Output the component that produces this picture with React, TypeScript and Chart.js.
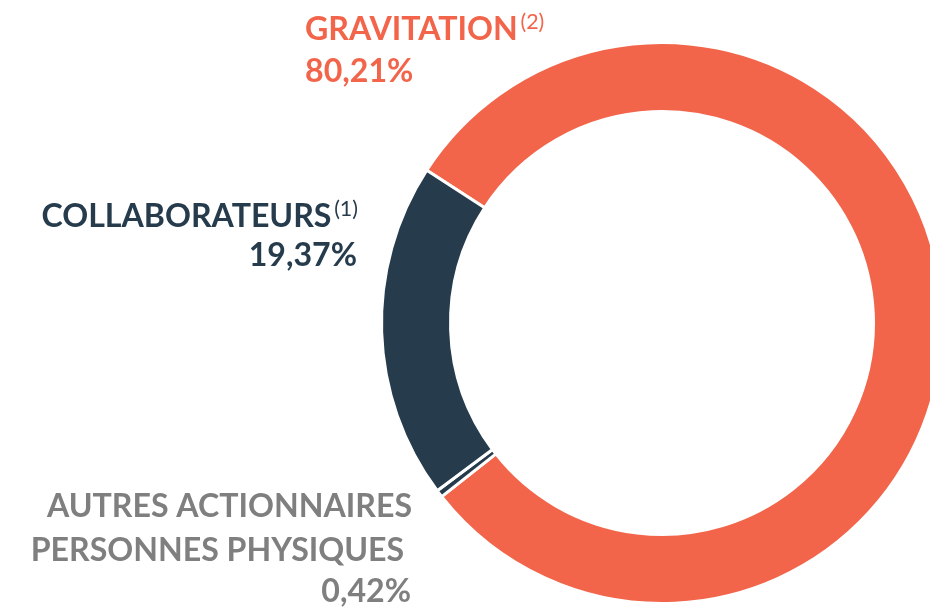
import React, { useEffect, useRef } from "react";
import { Chart, registerables } from "chart.js";

Chart.register(...registerables);

// ---- Data ----
const categoryLines: string[][] = [
  ["GRAVITATION"],
  ["AUTRES ACTIONNAIRES", "PERSONNES PHYSIQUES "],
  ["COLLABORATEURS"],
];
const shares = [80.21, 0.42, 19.37];
const notes = ["(2)", "", "(1)"];
const sliceColors = ["#F2654A", "#263C4D", "#263C4D"];
const textColors = ["#F2654A", "#7F7F7F", "#263C4D"];

// label placement (layout only)
const labelAnchors = [
  { x: 305, align: "left", baselines: [40, 82] },
  { x: 412, align: "right", baselines: [517, 561, 602] },
  { x: 358, align: "right", baselines: [227, 266] },
];

const FONT_FAMILY = "Lato, 'Noto Sans', sans-serif";
const MAIN_SIZE = 33;
const SUP_SIZE = 22;

const fmt = (v: number) => v.toFixed(2).replace(".", ",") + "%";

const labelPlugin = {
  id: "sideLabels",
  afterDraw(chart: any) {
    const ctx: CanvasRenderingContext2D = chart.ctx;
    ctx.save();
    ctx.textBaseline = "alphabetic";
    ctx.textAlign = "left";
    ctx.font = `700 ${MAIN_SIZE}px ${FONT_FAMILY}`;
    const ref = ctx.measureText("COLLABORATEURS").width;
    const sx = 290 / ref;

    const drawRun = (
      segs: { text: string; font: string; dy: number }[],
      x: number,
      baseline: number,
      align: string,
      color: string
    ) => {
      const widths = segs.map((s) => {
        ctx.font = s.font;
        return ctx.measureText(s.text).width * sx;
      });
      const total = widths.reduce((a, b) => a + b, 0);
      let cx = align === "right" ? x - total : x;
      segs.forEach((s, i) => {
        ctx.font = s.font;
        ctx.fillStyle = color;
        ctx.save();
        ctx.translate(cx, baseline + s.dy);
        ctx.scale(sx, 1);
        ctx.fillText(s.text, 0, 0);
        ctx.restore();
        cx += widths[i];
      });
    };

    const mainFont = `700 ${MAIN_SIZE}px ${FONT_FAMILY}`;
    const supFont = `400 ${SUP_SIZE}px ${FONT_FAMILY}`;

    categoryLines.forEach((lines, i) => {
      const a = labelAnchors[i];
      const color = textColors[i];
      lines.forEach((line, j) => {
        const segs = [{ text: line, font: mainFont, dy: 0 }];
        if (j === 0 && notes[i]) {
          segs.push({ text: "\u2009" + notes[i], font: supFont, dy: -11 });
        }
        drawRun(segs, a.x, a.baselines[j], a.align, color);
      });
      drawRun(
        [{ text: fmt(shares[i]), font: mainFont, dy: 0 }],
        a.align === "right" ? a.x - 1 : a.x,
        a.baselines[lines.length],
        a.align,
        color
      );
    });
    ctx.restore();
  },
};

export default function App() {
  const canvasRef = useRef<HTMLCanvasElement | null>(null);

  useEffect(() => {
    if (!canvasRef.current) return;
    const chart = new Chart(canvasRef.current, {
      type: "doughnut",
      data: {
        labels: categoryLines.map((l) => l.join(" ").trim()),
        datasets: [
          {
            data: shares,
            backgroundColor: sliceColors,
            borderColor: "#FFFFFF",
            borderWidth: 3,
            hoverOffset: 0,
          },
        ],
      },
      options: {
        responsive: false,
        animation: false,
        events: [],
        cutout: "75.4%",
        rotation: -57,
        layout: { padding: { top: 41, bottom: 2, left: 0, right: 0 } },
        plugins: {
          legend: { display: false },
          tooltip: { enabled: false },
        },
      },
      plugins: [labelPlugin],
    });
    return () => chart.destroy();
  }, []);

  return (
    <div
      style={{
        position: "absolute",
        left: 0,
        top: 0,
        width: 930,
        height: 607,
        overflow: "hidden",
        background: "#FFFFFF",
      }}
    >
      <canvas
        ref={canvasRef}
        width={1324}
        height={607}
        style={{ width: 1324, height: 607, display: "block" }}
      />
    </div>
  );
}
